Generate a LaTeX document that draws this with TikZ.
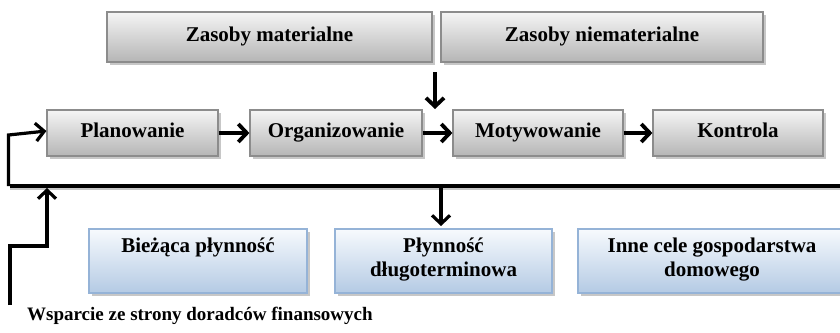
\documentclass[tikz,border=0pt]{standalone}
\usepackage{fontspec}
\setmainfont{Liberation Serif}
\usetikzlibrary{arrows.meta,shadows}
\definecolor{boxedge}{HTML}{8C8C8C}
\definecolor{bluetop}{HTML}{F7FAFD}
\definecolor{bluebot}{HTML}{B4CAE4}
\definecolor{blueedge}{HTML}{95B3D7}
\tikzset{
  boxfont/.style={font=\bfseries\fontsize{21}{24}\selectfont, align=center, inner sep=0pt,
    execute at begin node=\strut},
  graybox/.style={boxfont, draw=boxedge, line width=1.2pt, top color=gray!8, bottom color=gray!58,
    drop shadow={shadow xshift=2.5pt, shadow yshift=-3pt, fill=gray!55, opacity=0.8}},
  bluebox/.style={boxfont, draw=blueedge, line width=1.2pt, top color=bluetop, bottom color=bluebot,
    drop shadow={shadow xshift=2.5pt, shadow yshift=-3pt, fill=gray!55, opacity=0.8}},
  flow/.style={line width=3.8pt, -{Straight Barb[length=8.5pt,width=18pt,line width=3.8pt]}},
  link/.style={line width=3.2pt},
  linkarrow/.style={line width=3.2pt, -{Straight Barb[length=8.5pt,width=18pt,line width=3.2pt]}},
  linkshadow/.style={line width=3pt, draw=gray!45},
}
\begin{document}
\begin{tikzpicture}[x=1pt,y=-1pt]
\useasboundingbox (0,0) rectangle (840,332);
\begin{scope}
\clip (0,0) rectangle (840,332);

% resources
\node[graybox, minimum width=325pt, minimum height=50pt] (zm) at (269.5,37) {Zasoby materialne};
\node[graybox, minimum width=322pt, minimum height=50pt] (zn) at (602,37) {Zasoby niematerialne};

% management functions
\node[graybox, minimum width=171pt, minimum height=46pt] (plan) at (132.5,133) {Planowanie};
\node[graybox, minimum width=172pt, minimum height=46pt] (org) at (336,133) {Organizowanie};
\node[graybox, minimum width=170pt, minimum height=46pt] (mot) at (538,133) {Motywowanie};
\node[graybox, minimum width=170pt, minimum height=46pt] (kon) at (738,133) {Kontrola};

% goals
\node[bluebox, minimum width=218pt, minimum height=64pt] (bp) at (198,261) {Bieżąca płynność\\\strut};
\node[bluebox, minimum width=217pt, minimum height=64pt] (pd) at (443.5,261) {Płynność\\długoterminowa};
\node[bluebox, minimum width=268pt, minimum height=64pt] (ic) at (712,261) {Inne cele gospodarstwa\\domowego};

% free ends of connectors
\coordinate (resTop) at (435,72);
\coordinate (resTip) at (435,109);
\coordinate (busR) at (845,186);
\coordinate (busL) at (10,186);
\coordinate (busDrop) at (441,186);
\coordinate (goalTip) at (441,226);
\coordinate (supStart) at (10,305);
\coordinate (supStep) at (47,246);
\coordinate (supTip) at (47,188);

% shadow of the common line
\draw[linkshadow] ([yshift=-2.5pt]busR) -- ([yshift=-2.5pt]busL);

% connectors
\draw[flow] (resTop) -- (resTip);
\draw[flow] (plan.east) -- (org.west);
\draw[flow] (org.east) -- (mot.west);
\draw[flow] (mot.east) -- (kon.west);
\draw[link, line cap=butt] (busR) -- (busL);
\draw[linkarrow] ([xshift=-1.6pt]busL) -- ([xshift=-1.6pt]busL |- {(0,135)}) -- ([yshift=2pt]plan.west);
\draw[linkarrow] (busDrop) -- (goalTip);
\draw[linkarrow] (supStart) |- (supStep) -- (supTip);
\end{scope}

\node[font=\bfseries\fontsize{19}{22}\selectfont, anchor=west, inner sep=0pt] (sup) at (27,316) {Wsparcie ze strony doradców finansowych};
\end{tikzpicture}
\end{document}
